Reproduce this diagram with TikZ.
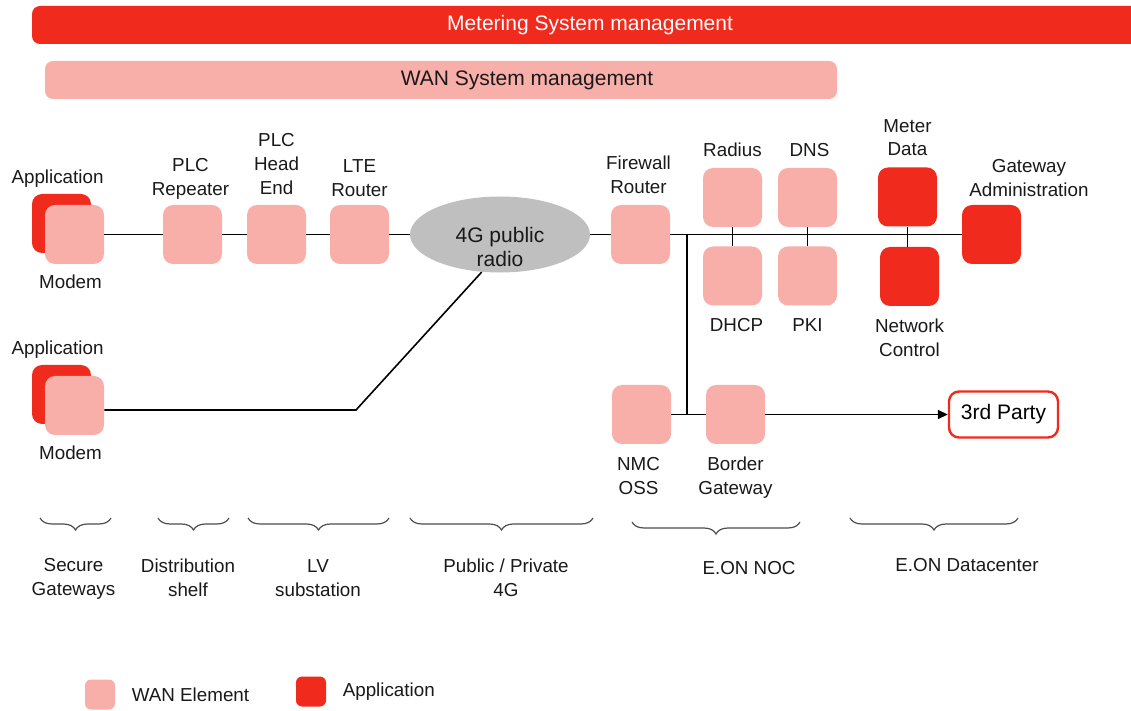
\documentclass[tikz,border=0pt]{standalone}
\usepackage{fontspec}
\setmainfont{Liberation Sans}
\usepackage{xcolor}
\usetikzlibrary{arrows.meta, positioning, shapes.geometric, decorations.pathreplacing}

\definecolor{eonred}{HTML}{F02A1D}
\definecolor{wanpink}{HTML}{F9AFA9}
\definecolor{radiogray}{HTML}{BFBFBF}

\begin{document}
\begin{tikzpicture}[
    x=0.5pt, y=-0.5pt,
    font=\fontsize{9.4}{11.8}\selectfont,
    wan/.style={rectangle, fill=wanpink, rounded corners=5pt, minimum size=29.5pt, inner sep=0pt},
    app/.style={wan, fill=eonred},
    toplbl/.style={align=center, inner sep=0pt, text depth=0pt, text=black!90},
    botlbl/.style={align=center, inner sep=0pt, text=black!90},
    big/.style={font=\fontsize{10.5}{12.2}\selectfont},
    link/.style={draw=black, line width=0.8pt},
    zone/.style={decorate, decoration={brace, mirror, amplitude=6pt}, draw=black!70, line width=0.6pt}
]
    \useasboundingbox (0,0) rectangle (1131,711);

    % Management bars
    \node (metsys) [app, minimum width=558pt, minimum height=19pt, rounded corners=4pt, text=white, big] at (590,25) {Metering System management};
    \node (wansys) [wan, minimum width=396pt, minimum height=19pt, rounded corners=4pt] at (441,80) {};
    \node (wansystxt) [big, text=black!90] at (527,80) {WAN System management};

    % Row 1: PLC path to 4G radio
    \node (app1) [app] at (61.5,223.5) {};
    \node (mod1) [wan] at (74.5,234.5) {};
    \node (rep) [wan] at (192.5,234.5) {};
    \node (hde) [wan] at (276.5,234.5) {};
    \node (lte) [wan] at (359.5,234.5) {};
    \node (radio) [ellipse, fill=radiogray, minimum width=90pt, minimum height=38pt, inner sep=0pt] at (500,234.5) {};
    \node (radiotxt) [botlbl, big] at (500,247) {4G public\\radio};

    \node (app1lbl) [toplbl, above=5pt of app1, xshift=-2pt] {Application};
    \node (mod1lbl) [botlbl, below=5pt of mod1, xshift=-2pt] {Modem};
    \node (replbl) [toplbl, above=4.5pt of rep, xshift=-1pt] {PLC\\Repeater};
    \node (hdelbl) [toplbl, above=5pt of hde] {PLC\\Head\\End};
    \node (ltelbl) [toplbl, above=4pt of lte] {LTE\\Router};

    % Row 1: data center side
    \node (fwr) [wan] at (640.5,234.5) {};
    \node (rad) [wan] at (732.5,197.5) {};
    \node (dhcp) [wan] at (732.5,276) {};
    \node (dns) [wan] at (807.5,197.5) {};
    \node (pki) [wan] at (807.5,276) {};
    \node (mdata) [app] at (907.5,197) {};
    \node (nctl) [app] at (909.5,276.5) {};
    \node (gwa) [app] at (991.5,234.5) {};

    \node (fwrlbl) [toplbl, above=5.5pt of fwr, xshift=-1pt] {Firewall\\Router};
    \node (radlbl) [toplbl, above=5.5pt of rad] {Radius};
    \node (dnslbl) [toplbl, above=5.5pt of dns, xshift=1pt] {DNS};
    \node (mdatalbl) [toplbl, above=5.5pt of mdata] {Meter\\Data};
    \node (gwalbl) [toplbl, above=4pt of gwa, xshift=18.75pt] {Gateway\\Administration};
    \node (dhcplbl) [botlbl, below=6pt of dhcp, xshift=2pt] {DHCP};
    \node (pkilbl) [botlbl, below=6pt of pki] {PKI};
    \node (nctllbl) [botlbl, below=6pt of nctl] {Network\\Control};

    % Row 2: direct 4G gateway, NOC
    \node (app2) [app] at (61.5,394.5) {};
    \node (mod2) [wan] at (74.5,405.5) {};
    \node (nmc) [wan] at (641.5,414.5) {};
    \node (bgw) [wan] at (735.5,414.5) {};
    \node (third) [rectangle, draw=eonred, line width=1.2pt, fill=white, rounded corners=5pt, minimum width=54.5pt, minimum height=23pt, big] at (1003.5,414.5) {3rd Party};

    \node (app2lbl) [toplbl, above=5pt of app2, xshift=-2pt] {Application};
    \node (mod2lbl) [botlbl, below=5pt of mod2, xshift=-2pt] {Modem};
    \node (nmclbl) [botlbl, below=6.5pt of nmc, xshift=-1.5pt] {NMC\\OSS};
    \node (bgwlbl) [botlbl, below=6pt of bgw] {Border\\Gateway};

    % Connecting lines
    \coordinate (tap) at (687,234.5);
    \coordinate (kink) at (356,410);
    \draw [link] (mod1) -- (rep);
    \draw [link] (rep) -- (hde);
    \draw [link] (hde) -- (lte);
    \draw [link] (lte) -- (radio);
    \draw [link] (radio) -- (fwr);
    \draw [link] (fwr) -- (gwa);
    \draw [link] (rad) -- (dhcp);
    \draw [link] (dns) -- (pki);
    \draw [link] (mdata.south) -- (mdata.south |- nctl.north);
    \draw [link] (tap) -- (tap |- nmc.east);
    \draw [link] (nmc) -- (bgw);
    \draw [link, -{Triangle[length=5pt, width=4.5pt]}] (bgw) -- (third);
    \draw [link] (mod2.east |- kink) -- (kink) -- (radio.244);

    % Zones
    \draw [zone] (40,518) -- (111,518);
    \draw [zone] (158,518) -- (229,518);
    \draw [zone] (248,518) -- (389,518);
    \draw [zone] (410,518) -- (593,518);
    \draw [zone] (632,522) -- (800,522);
    \draw [zone] (850,518) -- (1018,518);
    \node (secgw) [botlbl] at (73.5,579) {Secure\\Gateways};
    \node (dshelf) [botlbl] at (188,578) {Distribution\\shelf};
    \node (lvsub) [botlbl] at (318,578) {LV\\substation};
    \node (pubpriv) [botlbl] at (506,578) {Public / Private\\4G};
    \node (noc) [botlbl] at (749,568) {E.ON NOC};
    \node (dc) [botlbl] at (967,565) {E.ON Datacenter};

    % Legend
    \node (keywan) [wan, minimum size=15pt, rounded corners=3pt] at (100,694.5) {};
    \node (keywanlbl) [botlbl, right=8pt of keywan] {WAN Element};
    \node (keyapp) [app, minimum size=15pt, rounded corners=3pt] at (311,691.5) {};
    \node (keyapplbl) [botlbl, right=8pt of keyapp] {Application};

\end{tikzpicture}
\end{document}
